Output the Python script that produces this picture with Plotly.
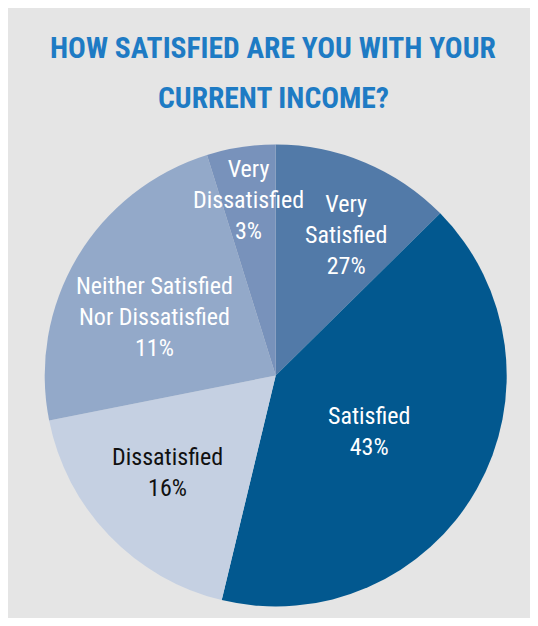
import math
import plotly.graph_objects as go

# ---- data ----
categories = ["Very Satisfied", "Satisfied", "Dissatisfied",
              "Neither Satisfied Nor Dissatisfied", "Very Dissatisfied"]
slice_values = [12.6, 41.1, 18.1, 23.3, 4.8]
label_percent = ["27%", "43%", "16%", "11%", "3%"]
label_names = ["Very<br>Satisfied", "Satisfied", "Dissatisfied",
               "Neither Satisfied<br>Nor Dissatisfied", "Very<br>Dissatisfied"]
title_lines = ["HOW SATISFIED ARE YOU WITH YOUR", "CURRENT INCOME?"]

# ---- styles ----
OFF = 8  # page body margin
W, H = 538 - 2 * OFF, 626 - 2 * OFF
colors = ["#527aa8", "#02588f", "#c5d0e2", "#93a9c9", "#7892bb"]
text_colors = ["white", "white", "#111111", "white", "white"]
label_radius = [0.68, 0.47, 0.63, 0.58, 0.77]
label_angle_shift = [4, 1.5, 2, -5, 0]
CX, CY, R = 275.7 - OFF, 375.5 - OFF, 231.0
FONT = "Roboto Condensed, Liberation Sans Narrow, DejaVu Sans Condensed, Roboto, sans-serif"

fig = go.Figure(go.Pie(
    labels=categories,
    values=slice_values,
    sort=False,
    direction="clockwise",
    rotation=0,
    marker=dict(colors=colors, line=dict(width=0)),
    textinfo="none",
    hoverinfo="label",
    showlegend=False,
    domain=dict(x=[(CX - R) / W, (CX + R) / W],
                y=[(H - CY - R) / H, (H - CY + R) / H]),
))

total = sum(slice_values)
cum = 0.0
annotations = []
for i, v in enumerate(slice_values):
    mid = (cum + v / 2) / total * 360 + label_angle_shift[i]
    cum += v
    th = math.radians(mid)
    px = CX + label_radius[i] * R * math.sin(th)
    py = CY - label_radius[i] * R * math.cos(th)
    annotations.append(dict(
        x=px / W, y=1 - py / H, xref="paper", yref="paper",
        text=f"{label_names[i]}<br>{label_percent[i]}",
        showarrow=False, xanchor="center", yanchor="middle", align="center",
        font=dict(family=FONT, size=24, color=text_colors[i]),
    ))

title_y = [48 - OFF, 98 - OFF]
for line, ty in zip(title_lines, title_y):
    annotations.append(dict(
        x=(273 - OFF) / W, y=1 - ty / H, xref="paper", yref="paper",
        text=f"<b>{line}</b>",
        showarrow=False, xanchor="center", yanchor="middle", align="center",
        font=dict(family=FONT, size=29.5, color="#1e7bc4"),
    ))

fig.update_layout(
    width=W, height=H,
    margin=dict(l=0, r=0, t=0, b=0),
    paper_bgcolor="#e5e5e5",
    plot_bgcolor="#e5e5e5",
    annotations=annotations,
)

fig.write_html("out.html")
